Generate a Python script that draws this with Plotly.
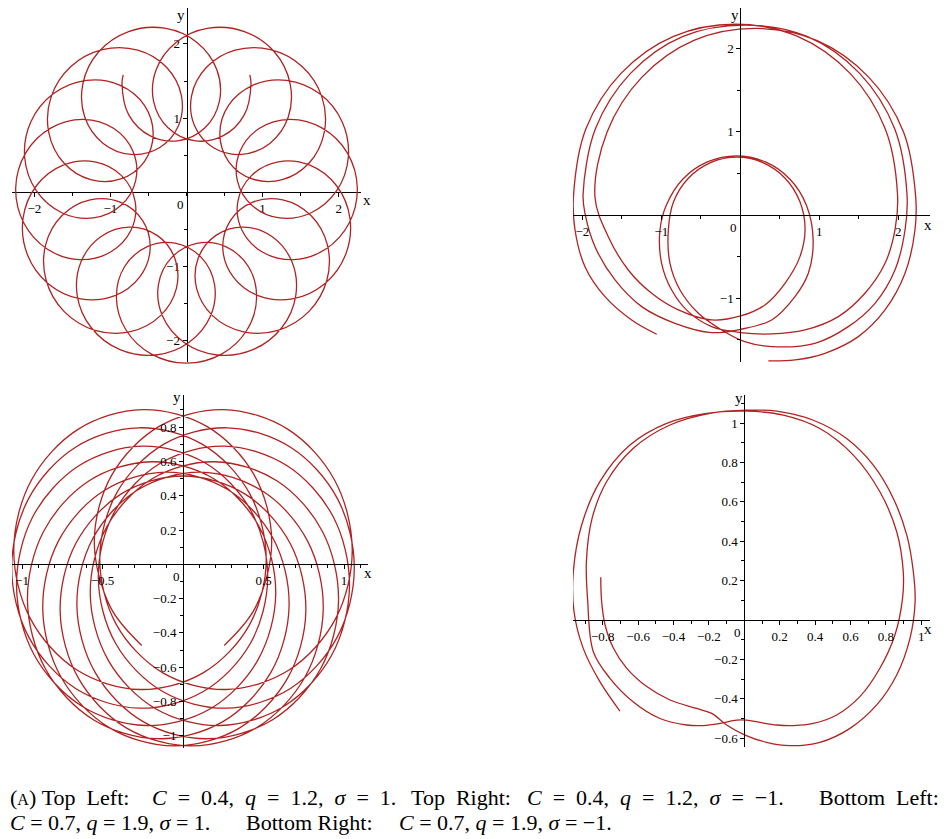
import plotly.graph_objects as go

# the page body has an 8px margin, so the figure is drawn 8px in and made 8px smaller
OFF = 8
W, H = 946 - OFF, 839 - OFF
CURVE = "#b22222"
FONT = "Liberation Serif"

# ---------------- data ----------------
# Top left (sigma = 1): polar samples (radius, angle in degrees)
TL_R = [1.765,
 1.671,1.278,0.887,0.690,0.887,1.278,1.671,1.987,2.190,2.260,2.190,1.987,
 1.671,1.278,0.887,0.690,0.887,1.278,1.671,1.987,2.190,2.260,2.190,1.987,
 1.671,1.278,0.887,0.690,0.887,1.278,1.671,1.987,2.190,2.260,2.190,1.987,
 1.671,1.278,0.887,0.690,0.887,1.278,1.671,1.987,2.190,2.260,2.190,1.987,
 1.671,1.278,0.887,0.690,0.887,1.278,1.671,1.987,2.190,2.260,2.190,1.987,
 1.671,1.278,0.887,0.690,0.887,1.278,1.671,1.987,2.190,2.260,2.190,1.987,
 1.671,1.278,0.887,0.690,0.887,1.278,1.671,1.987,2.190,2.260,2.190,1.987,
 1.671,1.278,0.887,0.690,0.887,1.278,1.671,1.987,2.190,2.260,2.190,1.987,
 1.671,1.278,0.887,0.690,0.887,1.278,1.671,1.987,2.190,2.260,2.190,1.987,
 1.671,1.278,0.887,0.690,0.887,1.278,1.671,1.987,2.190,2.260,2.190,1.987,
 1.671,1.278,0.887,0.690,0.887,1.278,1.671,1.987,2.190,2.260,2.190,1.987,
 1.671,1.278,0.887,0.690,0.887,1.278,1.671,1.987,2.190,2.260,2.190,1.987,
 1.671,1.278,0.887,0.690,0.887,1.278,1.671,1.987,2.190,2.260,2.190,1.987,
 1.671,1.278,0.887,0.690,0.887,1.278,1.671,1.987,2.190,2.260,2.190,1.987,
 1.671,1.278,0.887,0.690,0.887,1.278,1.671,1.987,2.190,2.260,2.190,1.987,
 1.671,1.278,0.887,0.690,0.887,1.278,1.671,
 1.765]
TL_THETA = [118.3,
 120.7,126.7,122.7,98.4,74.0,70.1,76.1,86.0,97.6,109.8,122.1,133.6,
 143.6,149.6,145.6,121.3,96.9,93.0,99.0,108.9,120.5,132.7,144.9,156.5,
 166.5,172.5,168.5,144.2,119.8,115.8,121.9,131.8,143.4,155.6,167.8,179.4,
 189.3,195.4,191.4,167.0,142.7,138.7,144.7,154.7,166.2,178.5,190.7,202.3,
 212.2,218.2,214.3,189.9,165.6,161.6,167.6,177.5,189.1,201.4,213.6,225.2,
 235.1,241.1,237.2,212.8,188.4,184.5,190.5,200.4,212.0,224.2,236.5,248.1,
 258.0,264.0,260.0,235.7,211.3,207.4,213.4,223.3,234.9,247.1,259.3,270.9,
 280.9,286.9,282.9,258.6,234.2,230.2,236.3,246.2,257.8,270.0,282.2,293.8,
 303.7,309.8,305.8,281.4,257.1,253.1,259.1,269.1,280.7,292.9,305.1,316.7,
 326.6,332.6,328.7,304.3,280.0,276.0,282.0,292.0,303.5,315.8,328.0,339.6,
 349.5,355.5,351.6,327.2,302.8,298.9,304.9,314.8,326.4,338.6,350.9,362.5,
 372.4,378.4,374.4,350.1,325.7,321.8,327.8,337.7,349.3,361.5,373.8,385.3,
 395.3,401.3,397.3,373.0,348.6,344.6,350.7,360.6,372.2,384.4,396.6,408.2,
 418.1,424.2,420.2,395.8,371.5,367.5,373.5,383.5,395.1,407.3,419.5,431.1,
 441.0,447.0,443.1,418.7,394.4,390.4,396.4,406.4,417.9,430.2,442.4,454.0,
 463.9,469.9,466.0,441.6,417.2,413.3,419.3,
 421.7]

# Top right (sigma = -1): three wide turns, two small turns
TR_X = [-1.058,-1.375,-1.713,-1.966,-2.092,-2.110,-1.954,-1.510,-0.845,-0.060,0.725,1.390,1.834,1.990,
        1.958,1.832,1.578,1.241,0.819,0.397,0.004,-0.363,-0.658,-0.869,-0.996,-1.017,
        -0.937,-0.729,-0.417,-0.050,0.317,0.629,0.837,0.922,
        0.861,0.692,0.397,0.004,-0.363,-0.827,-1.248,-1.586,-1.839,-1.966,
        -1.990,-1.834,-1.390,-0.725,0.060,0.845,1.510,1.954,2.110,
        2.085,1.958,1.705,1.367,0.945,0.397,0.055,-0.236,-0.531,-0.763,-0.890,-0.911,
        -0.844,-0.657,-0.376,-0.045,0.286,0.567,0.754,0.820,
        0.755,0.566,0.312,0.004,-0.363,-0.784,-1.122,-1.418,-1.671,
        -1.840,-1.686,-1.245,-0.587,0.190,0.967,1.625,2.066,2.220,
        2.211,2.085,1.832,1.494,1.072,0.692,0.355]
TR_Y = [-1.432,-1.260,-0.980,-0.620,-0.180,0.250,1.035,1.700,2.144,2.290,2.144,1.700,1.035,0.250,
        -0.180,-0.580,-0.940,-1.220,-1.380,-1.428,-1.412,-1.340,-1.160,-0.900,-0.580,-0.180,
        0.117,0.429,0.637,0.710,0.637,0.429,0.117,-0.300,
        -0.700,-0.980,-1.260,-1.372,-1.412,-1.300,-1.100,-0.780,-0.380,0.020,
        0.250,1.035,1.700,2.144,2.280,2.144,1.700,1.035,0.250,
        -0.180,-0.660,-1.060,-1.340,-1.540,-1.580,-1.520,-1.380,-1.180,-0.900,-0.580,-0.180,
        0.161,0.442,0.629,0.695,0.629,0.442,0.161,-0.170,
        -0.500,-0.820,-1.080,-1.212,-1.260,-1.140,-0.940,-0.660,-0.260,
        0.220,0.997,1.655,2.096,2.240,2.096,1.655,0.997,0.220,
        -0.180,-0.700,-1.140,-1.460,-1.660,-1.740,-1.752]

# Bottom left (sigma = 1)
BL_X = [-0.256,
 -0.450,-0.551,-0.441,-0.148,0.251,0.650,0.942,1.051,0.948,0.661,0.268,-0.125,
 -0.413,-0.517,-0.410,-0.121,0.275,0.670,0.959,1.064,0.957,0.667,0.271,-0.126,
 -0.418,-0.526,-0.423,-0.136,0.256,0.647,0.933,1.034,0.924,0.630,0.231,-0.170,
 -0.464,-0.576,-0.475,-0.192,0.196,0.585,0.867,0.966,0.853,0.557,0.155,-0.248,
 -0.545,-0.659,-0.561,-0.280,0.107,0.494,0.774,0.871,0.756,0.458,0.055,-0.350,
 -0.648,-0.763,-0.666,-0.386,0.000,
 0.386,0.666,0.763,0.648,0.350,-0.055,-0.458,-0.756,-0.871,-0.774,-0.494,-0.107,
 0.280,0.561,0.659,0.545,0.248,-0.155,-0.557,-0.853,-0.966,-0.867,-0.585,-0.196,
 0.192,0.475,0.576,0.464,0.170,-0.231,-0.630,-0.924,-1.034,-0.933,-0.647,-0.256,
 0.136,0.423,0.526,0.418,0.126,-0.271,-0.667,-0.957,-1.064,-0.959,-0.670,-0.275,
 0.121,0.410,0.517,0.413,0.125,-0.268,-0.661,-0.948,-1.051,-0.942,-0.650,-0.251,
 0.148,0.441,0.551,0.450,
 0.256]
BL_Y = [-0.473,
 -0.251,0.136,0.523,0.804,0.902,0.788,0.490,0.086,-0.317,-0.615,-0.730,-0.633,
 -0.353,0.033,0.419,0.699,0.796,0.681,0.383,-0.022,-0.426,-0.724,-0.839,-0.742,
 -0.462,-0.075,0.311,0.592,0.689,0.575,0.277,-0.126,-0.529,-0.826,-0.940,-0.842,
 -0.560,-0.172,0.216,0.499,0.598,0.486,0.190,-0.211,-0.612,-0.906,-1.017,-0.917,
 -0.632,-0.242,0.149,0.435,0.537,0.427,0.135,-0.263,-0.660,-0.952,-1.059,-0.955,
 -0.667,-0.274,0.121,0.409,0.515,
 0.409,0.121,-0.274,-0.667,-0.955,-1.059,-0.952,-0.660,-0.263,0.135,0.427,0.537,
 0.435,0.149,-0.242,-0.632,-0.917,-1.017,-0.906,-0.612,-0.211,0.190,0.486,0.598,
 0.499,0.216,-0.172,-0.560,-0.842,-0.940,-0.826,-0.529,-0.126,0.277,0.575,0.689,
 0.592,0.311,-0.075,-0.462,-0.742,-0.839,-0.724,-0.426,-0.022,0.383,0.681,0.796,
 0.699,0.419,0.033,-0.353,-0.633,-0.730,-0.615,-0.317,0.086,0.490,0.788,0.902,
 0.804,0.523,0.136,-0.251,
 -0.473]

# Bottom right (sigma = -1)
BR_X = [-0.811,-0.806,-0.787,-0.740,-0.665,-0.551,-0.420,-0.269,-0.184,-0.100,0.004,0.126,0.258,0.427,0.597,0.748,0.861,0.936,0.965,0.955,
        0.918,0.842,0.729,0.578,0.390,0.183,0.013,-0.194,-0.420,-0.627,-0.778,-0.860,-0.892,-0.885,-0.853,-0.759,-0.627,-0.476,-0.326,-0.232,
        -0.137,-0.043,0.013,0.088,0.183,0.277,0.390,0.522,0.653,0.766,0.851,0.894,0.898,0.861,0.766,0.616,0.427,0.221,0.013,-0.213,
        -0.439,-0.646,-0.816,-0.919,-0.966,-0.962,-0.910,-0.816,-0.703]
BR_Y = [0.217,0.093,-0.024,-0.142,-0.244,-0.338,-0.406,-0.449,-0.474,-0.533,-0.584,-0.621,-0.638,-0.621,-0.550,-0.431,-0.279,-0.093,0.093,0.245,
        0.431,0.617,0.786,0.921,1.014,1.060,1.065,1.049,0.990,0.872,0.702,0.516,0.300,0.100,-0.161,-0.296,-0.416,-0.500,-0.533,-0.536,
        -0.525,-0.508,-0.508,-0.520,-0.533,-0.536,-0.525,-0.482,-0.389,-0.245,-0.076,0.110,0.245,0.448,0.651,0.837,0.972,1.040,1.060,1.049,
        0.998,0.888,0.702,0.482,0.245,0.042,-0.144,-0.313,-0.462]

# Tick values
TL_XT = [-2, -1, 1, 2]; TL_YT = [-2, -1, 1, 2]
TR_XT = [-2, -1, 1, 2]; TR_YT = [-1, 1, 2]
BL_XT = [-1, -0.5, 0.5, 1]; BL_YT = [-1, -0.8, -0.6, -0.4, -0.2, 0.2, 0.4, 0.6, 0.8]
BR_XT = [-0.8, -0.6, -0.4, -0.2, 0.2, 0.4, 0.6, 0.8, 1]; BR_YT = [-0.6, -0.4, -0.2, 0.2, 0.4, 0.6, 0.8, 1]


# ---------------- layout geometry (reference pixels) ----------------
def fx(px):
    return min(1.0, max(0.0, (px - OFF) / W))


def fy(py):
    return min(1.0, max(0.0, 1 - (py - OFF) / H))


PANELS = [
    dict(ox=186.5, oy=192.3, sx=76.1, sy=74.2, xl=12, xr=361, yt=8, yb=362,
         xt=TL_XT, yt_=TL_YT, xminor=0.5, yminor=0.5, xlab=(367, 200), ylab=(181, 15)),
    dict(ox=740.3, oy=215.0, sx=79.0, sy=83.3, xl=573, xr=930, yt=8, yb=362,
         xt=TR_XT, yt_=TR_YT, xminor=0.5, yminor=0.5, xlab=(928, 225), ylab=(735, 15)),
    dict(ox=183.0, oy=564.3, sx=161.0, sy=171.5, xl=12, xr=368, yt=395, yb=748,
         xt=BL_XT, yt_=BL_YT, xminor=0.1, yminor=0.1, xlab=(368, 573), ylab=(177, 397)),
    dict(ox=744.3, oy=620.0, sx=177.0, sy=197.0, xl=573, xr=930, yt=395, yb=747,
         xt=BR_XT, yt_=BR_YT, xminor=0.1, yminor=0.1, xlab=(928, 629), ylab=(739, 398)),
]


def fmt(v):
    s = "%g" % abs(v)
    return ("\u2212" + s) if v < 0 else s


fig = go.Figure()
layout = dict(width=W, height=H, margin=dict(l=0, r=0, t=0, b=0),
              paper_bgcolor="white", plot_bgcolor="rgba(0,0,0,0)",
              showlegend=False, annotations=[])
tickfont = dict(family=FONT, size=13, color="black")
namefont = dict(family=FONT, size=15, color="black")

for i, p in enumerate(PANELS, start=1):
    xa = "xaxis" if i == 1 else "xaxis%d" % i
    ya = "yaxis" if i == 1 else "yaxis%d" % i
    common = dict(showgrid=False, zeroline=False, showline=True, linecolor="black", linewidth=1,
                  ticks="outside", ticklen=4, tickwidth=1, tickcolor="black",
                  tickfont=tickfont, anchor="free", tickmode="array", fixedrange=True)
    layout[xa] = dict(common,
                      domain=[fx(p["xl"]), fx(p["xr"])],
                      range=[(p["xl"] - p["ox"]) / p["sx"], (p["xr"] - p["ox"]) / p["sx"]],
                      position=fy(p["oy"]),
                      tickvals=p["xt"], ticktext=[fmt(v) for v in p["xt"]],
                      minor=dict(dtick=p["xminor"], tick0=0, ticks="outside", ticklen=3,
                                 tickcolor="black", showgrid=False))
    layout[ya] = dict(common,
                      domain=[fy(p["yb"]), fy(p["yt"])],
                      range=[(p["oy"] - p["yb"]) / p["sy"], (p["oy"] - p["yt"]) / p["sy"]],
                      position=fx(p["ox"]),
                      tickvals=p["yt_"], ticktext=[fmt(v) for v in p["yt_"]],
                      minor=dict(dtick=p["yminor"], tick0=0, ticks="outside", ticklen=3,
                                 tickcolor="black", showgrid=False))
    xr = "x" if i == 1 else "x%d" % i
    yr = "y" if i == 1 else "y%d" % i
    layout["annotations"] += [
        dict(text="0", x=0, y=0, xref=xr, yref=yr, xanchor="right", yanchor="top",
             xshift=-1, yshift=-3, showarrow=False, font=tickfont),
        dict(text="x", x=fx(p["xlab"][0]), y=fy(p["xlab"][1]), xref="paper", yref="paper",
             xanchor="center", yanchor="middle", showarrow=False, font=namefont),
        dict(text="y", x=fx(p["ylab"][0]), y=fy(p["ylab"][1]), xref="paper", yref="paper",
             xanchor="center", yanchor="middle", showarrow=False, font=namefont),
    ]

for i in range(1, 5):
    xr = "x" if i == 1 else "x%d" % i
    yr = "y" if i == 1 else "y%d" % i
    fig.add_trace(go.Scatter(x=[None], y=[None], xaxis=xr, yaxis=yr, hoverinfo="skip", showlegend=False))

line = dict(color=CURVE, width=1.3, shape="spline", smoothing=1)

# top-left curve drawn on a hidden polar frame with the same origin
TLp = PANELS[0]
HALF = 178.0
SCALE = 75.6
layout["polar"] = dict(
    domain=dict(x=[fx(TLp["ox"] - HALF), fx(TLp["ox"] + HALF)],
                y=[fy(TLp["oy"] + HALF), fy(TLp["oy"] - HALF)]),
    bgcolor="rgba(0,0,0,0)",
    radialaxis=dict(range=[0, HALF / SCALE], visible=False, showgrid=False),
    angularaxis=dict(visible=False, showgrid=False, rotation=0, direction="counterclockwise"),
)
fig.add_trace(go.Scatterpolar(r=TL_R, theta=TL_THETA, mode="lines", line=line,
                              subplot="polar", hoverinfo="skip"))

fig.add_trace(go.Scatter(x=TR_X, y=TR_Y, mode="lines", line=line, xaxis="x2", yaxis="y2",
                         cliponaxis=False, hoverinfo="skip"))
fig.add_trace(go.Scatter(x=BL_X, y=BL_Y, mode="lines", line=line, xaxis="x3", yaxis="y3",
                         cliponaxis=False, hoverinfo="skip"))
fig.add_trace(go.Scatter(x=BR_X, y=BR_Y, mode="lines", line=line, xaxis="x4", yaxis="y4",
                         cliponaxis=False, hoverinfo="skip"))

# caption, placed piece by piece to reproduce the justified first line
cap_font = dict(family=FONT, size=22, color="black")
S = "&nbsp;"
EQ1 = S * 2 + "=" + S * 2
CM1 = "," + S * 2
EQ2 = S + "=" + S
CM2 = "," + S
CAPTION = [  # text, anchor, x, y (reference pixels)
    ("(<span style='font-size:16px'>A</span>)" + S + "Top" + S * 2 + "Left:", "left", 7, 797),
    ("<i>C</i>" + EQ1 + "0.4" + CM1 + "<i>q</i>" + EQ1 + "1.2" + CM1 + "<i>σ</i>" + EQ1 + "1.",
     "center", 274, 797),
    ("Top" + S * 2 + "Right:", "center", 461, 797),
    ("<i>C</i>" + EQ1 + "0.4" + CM1 + "<i>q</i>" + EQ1 + "1.2" + CM1 + "<i>σ</i>" + EQ1 + "\u22121.",
     "center", 655, 797),
    ("Bottom" + S * 2 + "Left:", "right", 941, 797),
    ("<i>C</i>" + EQ2 + "0.7" + CM2 + "<i>q</i>" + EQ2 + "1.9" + CM2 + "<i>σ</i>" + EQ2 + "1.",
     "left", 7, 822),
    ("Bottom Right:", "center", 309, 822),
    ("<i>C</i>" + EQ2 + "0.7" + CM2 + "<i>q</i>" + EQ2 + "1.9" + CM2 + "<i>σ</i>" + EQ2 + "\u22121.",
     "center", 506, 822),
]
for txt, anc, px, py in CAPTION:
    layout["annotations"].append(
        dict(text=txt, x=fx(px), y=fy(py), xref="paper", yref="paper", xanchor=anc,
             yanchor="middle", showarrow=False, font=cap_font))

fig.update_layout(**layout)
fig.write_html("out.html")
